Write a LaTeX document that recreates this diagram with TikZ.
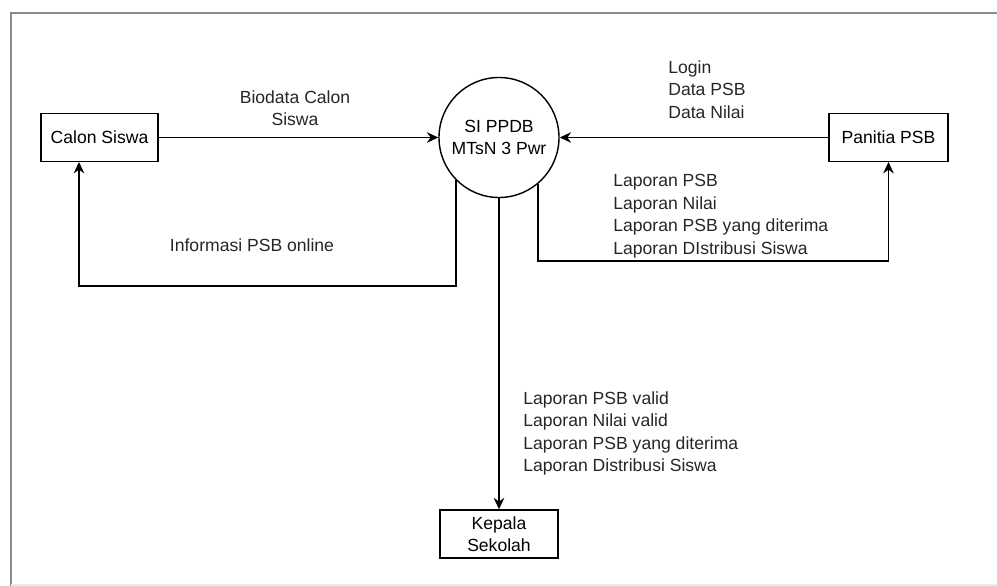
\documentclass[tikz,border=0pt]{standalone}
\usepackage{fontspec}
\setmainfont{Liberation Sans}
\usetikzlibrary{arrows.meta, positioning, calc}

\begin{document}
\begin{tikzpicture}[
    font=\fontsize{10}{12.8}\selectfont,
    entity/.style={draw, line width=0.8pt, minimum width=2.36cm, minimum height=0.95cm, align=center, inner sep=2pt},
    process/.style={draw, circle, line width=0.8pt, minimum size=2.4cm, align=center, inner sep=1pt},
    flow/.style={draw, line width=0.8pt, -{Stealth[length=6.5pt, width=6pt]}},
    flowlabel/.style={text=black!85, inner sep=0pt}
]
    \useasboundingbox (0,0) rectangle (19.94,-11.72);
    % frame
    \draw[black!45, line width=1.3pt] (0.22,-11.8) |- (20.1,-0.26);
    \draw[black!8, line width=0.6pt] (0.22,-11.7) -- (19.94,-11.7);

    % process and entities
    \node[process] (ppdb) at (9.98,-2.75) {SI PPDB\\MTsN 3 Pwr};
    \node[entity, minimum width=2.34cm] (calon) at (1.99,-2.75) {Calon Siswa};
    \node[entity, minimum width=2.38cm] (panitia) at (17.77,-2.75) {Panitia PSB};
    \node[entity, minimum height=0.96cm] (kepala) at (9.98,-10.68) {Kepala\\Sekolah};

    % flows
    \coordinate (bl) at (1.58,-5.72);
    \coordinate (br) at (17.77,-5.22);
    \draw[flow] (calon.east) -- (ppdb.west);
    \draw[flow] (ppdb.225) |- (bl) -- (bl |- calon.south);
    \draw[flow] (panitia.west) -- (ppdb.east);
    \draw[flow] (ppdb.310) |- (br) -- (panitia.south);
    \draw[flow] (ppdb.south) -- (kepala.north);

    % labels
    \node[flowlabel, align=center] (lbiodata) at (5.9,-2.16) {Biodata Calon\\Siswa};
    \node[flowlabel] (linfo) at (5.04,-4.9) {Informasi PSB online};
    \node[flowlabel, align=left, anchor=west] (llogin) at (13.36,-1.79) {Login\\Data PSB\\Data Nilai};
    \node[flowlabel, align=left, anchor=west] (lpanitia) at (12.26,-4.32)
        {Laporan PSB\\Laporan Nilai\\Laporan PSB yang diterima\\Laporan DIstribusi Siswa};
    \node[flowlabel, align=left, anchor=west] (lkepala) at (10.46,-8.67)
        {Laporan PSB valid\\Laporan Nilai valid\\Laporan PSB yang diterima\\Laporan Distribusi Siswa};
\end{tikzpicture}
\end{document}
